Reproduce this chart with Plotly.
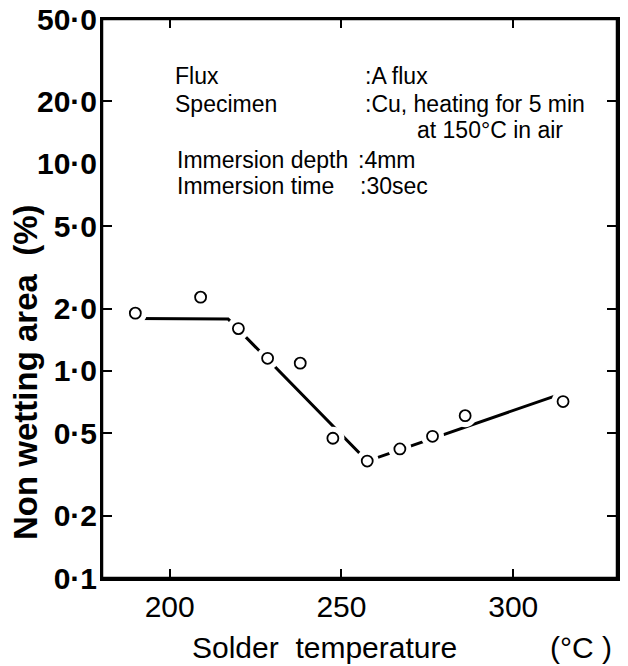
import math
import plotly.graph_objects as go

# ---- data ----
temps = [190, 209, 220, 228.5, 238, 247.5, 257.5, 267, 276.5, 286, 314.5]
area = [1.90, 2.27, 1.60, 1.15, 1.09, 0.473, 0.367, 0.42, 0.483, 0.608, 0.711]

fit_temps = [190, 217, 257.5, 312.5]
fit_area = [1.79, 1.78, 0.367, 0.76]

x_tick_vals = [200, 250, 300]
y_label_vals = [0.1, 0.2, 0.5, 1, 2, 5, 10, 20, 50]
y_label_text = ["0·1", "0·2", "0·5", "1·0", "2·0", "5·0", "10·0", "20·0", "50·0"]
y_tick_vals = [0.2, 0.5, 1, 2, 5, 20]

x_range = [180.3, 330.2]
y_range = [math.log10(0.1), math.log10(50)]

fig = go.Figure()

# fitted trend line
fig.add_trace(go.Scatter(
    x=fit_temps, y=fit_area, mode="lines",
    line=dict(color="black", width=3),
    hoverinfo="skip", showlegend=False, yaxis="y"))

# white masks making gaps in the line around each point
fig.add_trace(go.Scatter(
    x=temps, y=area, mode="markers",
    marker=dict(symbol="circle", size=23, color="white", line=dict(width=0)),
    hoverinfo="skip", showlegend=False, yaxis="y2"))

# open circle markers
fig.add_trace(go.Scatter(
    x=temps, y=area, mode="markers",
    marker=dict(symbol="circle", size=11, color="white",
                line=dict(color="black", width=1.8)),
    showlegend=False, yaxis="y2"))

base_font = "Liberation Sans, Arial, sans-serif"

fig.update_layout(
    width=628, height=666,
    margin=dict(l=102, r=11, t=19, b=88),
    paper_bgcolor="white", plot_bgcolor="white",
    font=dict(family=base_font, color="black"),
    xaxis=dict(
        range=x_range, tickvals=x_tick_vals, automargin=False,
        ticks="inside", ticklen=9, tickwidth=2, tickcolor="black",
        showline=True, linewidth=2.5, linecolor="black", mirror="ticks",
        showgrid=False, zeroline=False, ticklabeloverflow="allow",
        tickfont=dict(size=30, family=base_font, color="black"),
    ),
    yaxis=dict(
        type="log", range=y_range, tickvals=y_tick_vals, automargin=False,
        showticklabels=False,
        ticks="inside", ticklen=10, tickwidth=2, tickcolor="black",
        showline=True, linewidth=2.5, linecolor="black", mirror="ticks",
        showgrid=False, zeroline=False,
    ),
    yaxis2=dict(
        type="log", range=y_range, overlaying="y", side="left", automargin=False,
        tickvals=y_label_vals, ticktext=y_label_text, ticklabeloverflow="allow",
        ticklabelstandoff=4,
        ticks="", showline=False, showgrid=False, zeroline=False,
        tickfont=dict(size=30, family=base_font, color="black", weight="bold"),
    ),
)

# plot frame
fig.add_shape(type="rect", xref="paper", yref="paper", x0=0, y0=0, x1=1, y1=1,
              line=dict(color="black", width=2.5), fillcolor="rgba(0,0,0,0)",
              layer="above")

# pixel positions below are in window coordinates
L, W, T, H = 102, 515, 19, 559


def px(xp):
    return (xp - L) / W


def py(yp):
    return (T + H - yp) / H


txt_font = dict(size=23, family=base_font, color="black")
notes = [
    ("Flux", 173, 76),
    ("Specimen", 173, 104),
    ("Immersion depth", 175, 160),
    ("Immersion time", 175, 186),
    (":A flux", 363, 76),
    (":Cu, heating for 5 min", 363, 104),
    ("at 150°C in air", 415, 130),
    (":4mm", 356, 160),
    (":30sec", 358, 186),
]
for t, xp, yp in notes:
    fig.add_annotation(text=t, xref="paper", yref="paper", x=px(xp), y=py(yp),
                       xanchor="left", yanchor="middle", showarrow=False,
                       font=txt_font)

# axis titles
fig.add_annotation(text="Solder\u00a0 temperature", xref="paper", yref="paper",
                   x=px(324), y=py(647), xanchor="center", yanchor="middle",
                   showarrow=False, font=dict(size=30, family=base_font, color="black"))
fig.add_annotation(text="(°C )", xref="paper", yref="paper",
                   x=px(581), y=py(647), xanchor="center", yanchor="middle",
                   showarrow=False, font=dict(size=30, family=base_font, color="black"))
fig.add_annotation(text="Non wetting area  (%)", xref="paper", yref="paper",
                   x=px(25), y=py(372), xanchor="center", yanchor="middle",
                   textangle=-90, showarrow=False,
                   font=dict(size=33, family=base_font, color="black", weight="bold"))

fig.write_html("out.html",
               config={"displayModeBar": False, "staticPlot": True},
               post_script="document.body.style.margin='0px';"
                           "document.body.style.overflow='hidden';")
